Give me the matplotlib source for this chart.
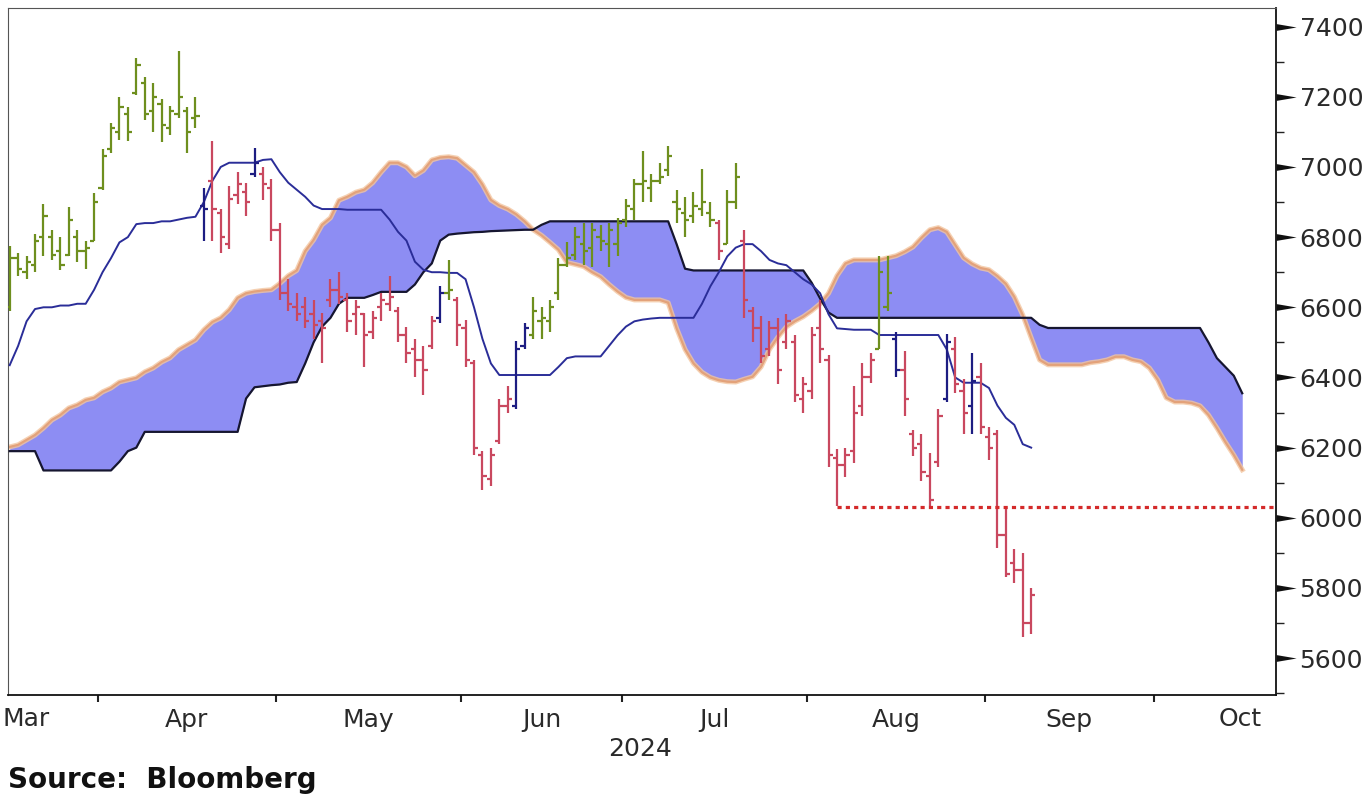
# Ichimoku style bar chart, Mar - Oct 2024 (Bloomberg look)

import matplotlib
matplotlib.use("Agg")
import matplotlib.pyplot as plt
import numpy as np

# daily bars (trading day index 0..121)
opens = [6600,6740,6700,6720,6800,6800,6760,6750,6800,6760,
         6790,6940,7050,7100,7150,7210,7240,7160,7180,7110,
         7150,7160,7140,6890,6960,6870,6780,6920,6930,6980,
         6980,6940,6820,6640,6600,6600,6580,6560,6620,6650,
         6620,6580,6580,6530,6600,6610,6590,6520,6480,6450,
         6490,6570,6640,6620,6540,6440,6180,6110,6220,6320,
         6320,6490,6520,6560,6560,6640,6720,6750,6780,6770,
         6800,6780,6780,6850,6880,6950,6940,6960,6990,6900,
         6870,6860,6880,6870,6840,6780,6900,6790,6590,6540,
         6480,6540,6500,6500,6340,6360,6540,6450,6170,6150,
         6190,6320,6400,6480,6600,6510,6420,6240,6210,6120,
         6160,6340,6480,6360,6320,6400,6230,6240,5950,5870,
         5850,5700]
highs = [6775,6755,6745,6810,6895,6820,6800,6885,6820,6790,
         6925,7050,7125,7200,7170,7310,7255,7240,7195,7175,
         7330,7170,7200,6940,7075,6880,6945,6985,6955,7055,
         7000,6965,6840,6680,6640,6630,6620,6585,6680,6700,
         6640,6620,6585,6590,6640,6690,6600,6545,6510,6490,
         6575,6660,6735,6630,6565,6450,6190,6200,6340,6375,
         6505,6555,6630,6600,6620,6740,6785,6830,6840,6840,
         6835,6840,6855,6910,6965,7045,6980,7010,7060,6935,
         6915,6930,6995,6900,6850,6935,7010,6820,6600,6575,
         6560,6570,6580,6520,6400,6545,6620,6465,6195,6200,
         6375,6440,6470,6745,6745,6530,6475,6250,6240,6185,
         6310,6525,6515,6395,6470,6440,6260,6250,6030,5910,
         5900,5800]
lows = [6590,6690,6680,6700,6745,6735,6705,6745,6730,6710,
        6790,6935,7040,7077,7075,7205,7135,7100,7070,7090,
        7140,7040,7110,6790,6790,6755,6765,6895,6860,6970,
        6905,6790,6620,6590,6560,6540,6510,6440,6600,6610,
        6530,6520,6430,6510,6560,6590,6500,6440,6400,6350,
        6480,6555,6620,6490,6430,6180,6080,6090,6210,6300,
        6310,6480,6510,6510,6530,6620,6715,6735,6720,6715,
        6760,6715,6745,6830,6850,6900,6900,6950,6975,6840,
        6800,6840,6860,6830,6735,6780,6880,6570,6500,6440,
        6460,6380,6480,6330,6300,6340,6440,6145,6035,6115,
        6155,6290,6385,6480,6590,6400,6290,6175,6105,6035,
        6145,6330,6355,6240,6240,6240,6165,5915,5830,5815,
        5660,5670]
closes = [6740,6710,6730,6790,6860,6750,6720,6850,6760,6770,
          6900,7030,7110,7170,7100,7290,7150,7200,7120,7160,
          7200,7100,7145,6880,6880,6800,6910,6950,6900,7010,
          6950,6820,6640,6610,6580,6560,6550,6540,6650,6630,
          6560,6600,6520,6570,6620,6630,6520,6470,6450,6420,
          6560,6640,6650,6550,6450,6200,6120,6180,6320,6340,
          6480,6540,6590,6570,6600,6720,6740,6800,6760,6820,
          6790,6820,6840,6890,6950,6960,6960,6970,7030,6880,
          6850,6890,6900,6850,6760,6900,6970,6620,6540,6460,
          6540,6420,6560,6350,6380,6520,6480,6180,6150,6180,
          6300,6400,6450,6700,6640,6420,6340,6200,6130,6050,
          6290,6500,6380,6300,6390,6260,6200,5950,5840,5850,
          5700,5780]
# bar colour code: g = up trend, r = down trend, b = neutral
bar_codes = ("gggggggggg" "gggggggggg" "gggbrrrrrb" "rrrrrrrrrr"
             "rrrrrrrrrr" "rbgrrrrrrr" "bbgggggggg" "gggggggggg"
             "ggggrggrrr" "rrrrrrrrrr" "rrrggbrrrr" "rbrrbrrrrr" "rr")

base_line = [6435,6490,6560,6595,6600,6600,6605,6605,6610,6610,
             6650,6700,6740,6785,6800,6837,6840,6840,6845,6845,
             6850,6855,6858,6900,6960,7000,7012,7012,7012,7012,
             7020,7022,6985,6955,6935,6915,6890,6880,6880,6880,
             6878,6878,6878,6878,6878,6850,6815,6790,6730,6707,
             6700,6700,6698,6698,6680,6600,6510,6440,6407,6407,
             6407,6407,6407,6407,6407,6430,6455,6460,6460,6460,
             6460,6490,6520,6545,6560,6565,6568,6570,6570,6570,
             6570,6570,6610,6660,6700,6745,6770,6780,6780,6760,
             6735,6725,6720,6700,6680,6665,6640,6580,6540,6538,
             6536,6536,6536,6521,6521,6521,6521,6521,6521,6521,
             6521,6480,6400,6385,6385,6385,6370,6320,6285,6265,
             6210,6200]

# leading spans (shifted forward, index 0..146)
span_a = [6202,6208,6222,6236,6256,6279,6293,6313,6322,6336,
          6342,6359,6370,6387,6393,6399,6416,6427,6444,6456,
          6479,6493,6507,6536,6558,6570,6593,6627,6640,6645,
          6648,6650,6668,6690,6705,6760,6792,6835,6855,6905,
          6915,6928,6935,6955,6985,7012,7012,7000,6975,6990,
          7020,7027,7029,7025,7005,6985,6950,6906,6890,6880,
          6865,6845,6821,6805,6785,6764,6728,6722,6716,6700,
          6687,6665,6645,6628,6621,6621,6621,6621,6613,6540,
          6480,6440,6415,6400,6392,6388,6387,6395,6402,6430,
          6480,6515,6544,6560,6573,6590,6610,6640,6690,6725,
          6735,6735,6735,6735,6741,6747,6758,6772,6798,6821,
          6827,6815,6778,6741,6724,6712,6707,6689,6667,6630,
          6578,6513,6450,6436,6436,6436,6436,6436,6442,6445,
          6450,6459,6459,6450,6445,6427,6393,6342,6330,6330,
          6327,6319,6293,6256,6216,6179,6137]
span_b = [6190,6190,6190,6190,6135,6135,6135,6135,6135,6135,
          6135,6135,6135,6160,6190,6200,6245,6245,6245,6245,
          6245,6245,6245,6245,6245,6245,6245,6245,6340,6372,
          6375,6378,6380,6385,6387,6440,6500,6545,6570,6610,
          6627,6627,6627,6635,6644,6644,6644,6644,6665,6700,
          6725,6790,6807,6810,6812,6814,6815,6817,6818,6819,
          6820,6821,6821,6835,6845,6845,6845,6845,6845,6845,
          6845,6845,6845,6845,6845,6845,6845,6845,6845,6780,
          6710,6705,6705,6705,6705,6705,6705,6705,6705,6705,
          6705,6705,6705,6705,6705,6670,6625,6585,6570,6570,
          6570,6570,6570,6570,6570,6570,6570,6570,6570,6570,
          6570,6570,6570,6570,6570,6570,6570,6570,6570,6570,
          6570,6570,6550,6541,6541,6541,6541,6541,6541,6541,
          6541,6541,6541,6541,6541,6541,6541,6541,6541,6541,
          6541,6541,6500,6455,6430,6405,6355]

support_level = 6030
support_from = 98

month_names = ["Mar", "Apr", "May", "Jun", "Jul", "Aug", "Sep", "Oct"]
month_breaks = [10.5, 31.5, 53.5, 72.5, 94.5, 115.5, 135.5]
y_major = [5600, 5800, 6000, 6200, 6400, 6600, 6800, 7000, 7200, 7400]
y_minor = [5500, 5700, 5900, 6100, 6300, 6500, 6700, 6900, 7100, 7300]

palette = {"g": "#6e8f1e", "r": "#c9485f", "b": "#1d1d82"}

fig = plt.figure(figsize=(13.68, 7.95), dpi=100)
ax = fig.add_axes([8/1368, 1-695/795, (1276-8)/1368, (695-8)/795])

days = np.arange(len(opens))
lead = np.arange(len(span_a))

# cloud
ax.fill_between(lead, span_a, span_b, color="#8d8df3", lw=0, zorder=1)
ax.plot(lead, span_a, color="#f3c6a0", lw=3.6, zorder=2, alpha=0.8)
ax.plot(lead, span_a, color="#e3a27a", lw=1.6, zorder=2)
ax.plot(lead, span_b, color="#161630", lw=1.6, zorder=3)

# base line
ax.plot(days, base_line, color="#2a2d98", lw=1.4, zorder=4)

# OHLC bars
cols = [palette[c] for c in bar_codes]
ax.vlines(days, lows, highs, colors=cols, lw=1.6, zorder=5)
ax.hlines(opens, days - 0.5, days, colors=cols, lw=1.6, zorder=5)
ax.hlines(closes, days, days + 0.5, colors=cols, lw=1.6, zorder=5)

# support
ax.hlines(support_level, support_from, 150, colors="#d42a2a",
          linestyles=(0, (1.3, 1.3)), lw=2.3, zorder=6)

ax.set_xlim(-0.2, 150.0)
ax.set_ylim(5495, 7453)

# y axis on the right with triangle markers
ax.yaxis.tick_right()
ax.set_yticks(y_major)
ax.set_yticks(y_minor, minor=True)
ax.tick_params(axis="y", which="major", length=0, pad=17, labelsize=18,
               labelcolor="#2a2a2a")
ax.tick_params(axis="y", which="minor", length=6, width=1, color="#222222")
ax.plot(np.ones(len(y_major)), y_major, transform=ax.get_yaxis_transform(),
        linestyle="none", marker=[(0, -0.17), (0, 0.17), (1, 0)],
        markersize=29, markeredgewidth=0, color="#111111", clip_on=False)

# x axis: ticks at month breaks, names in between
ax.set_xticks(month_breaks)
ax.set_xticklabels([])
ax.tick_params(axis="x", which="major", length=5, width=1.5, color="#222222")
centres = [2] + [(a + b) / 2 for a, b in zip(month_breaks[:-1], month_breaks[1:])] + [145.8]
ax.set_xticks(centres, minor=True)
ax.set_xticklabels(month_names, minor=True)
ax.tick_params(axis="x", which="minor", length=0, pad=9, labelsize=18,
               labelcolor="#2a2a2a")

for side in ["left", "top"]:
    ax.spines[side].set_color("#555555")
for side in ["right", "bottom"]:
    ax.spines[side].set_color("#111111")
    ax.spines[side].set_linewidth(1.3)

fig.text(640/1368, 1-749/795, "2024", ha="center", va="center",
         fontsize=18, color="#2a2a2a")
fig.text(8/1368, 1-788/795, "Source:  Bloomberg", ha="left", va="baseline",
         fontsize=20, fontweight="bold", color="#111111")

fig.savefig("out.png", dpi=100)
